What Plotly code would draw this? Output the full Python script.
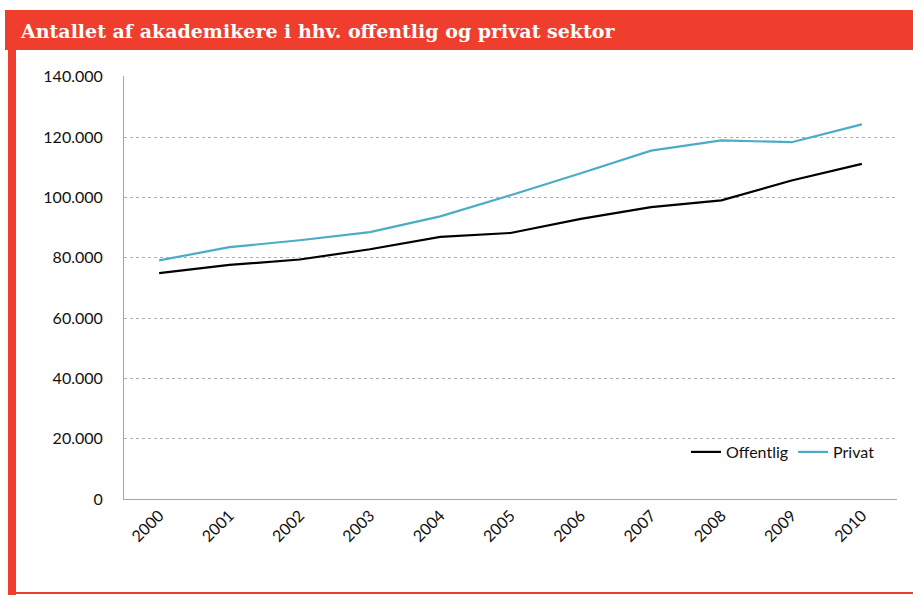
import plotly.graph_objects as go

years = ["2000", "2001", "2002", "2003", "2004", "2005", "2006", "2007", "2008", "2009", "2010"]
offentlig = [74900, 77600, 79400, 82800, 86900, 88200, 92900, 96800, 99000, 105600, 111100]
privat = [79100, 83500, 85800, 88500, 93700, 100700, 108000, 115500, 118900, 118300, 124200]
y_ticks = [0, 20000, 40000, 60000, 80000, 100000, 120000, 140000]
y_labels = ["0", "20.000", "40.000", "60.000", "80.000", "100.000", "120.000", "140.000"]

W, H = 913, 595
L, R, T, B = 124, 16, 76, 96
pw, ph = W - L - R, H - T - B

def px(x):
    return (x - L) / pw

def py(y):
    return (H - B - y) / ph

RED = "#EF3E2E"

fig = go.Figure()
fig.add_trace(go.Scatter(x=years, y=offentlig, mode="lines", name="Offentlig",
                         line=dict(color="#000000", width=2.2)))
fig.add_trace(go.Scatter(x=years, y=privat, mode="lines", name="Privat",
                         line=dict(color="#4BACC6", width=2.2)))

shapes = [
    dict(type="rect", xref="paper", yref="paper", x0=px(5), x1=px(913), y0=py(50), y1=py(10),
         fillcolor=RED, line=dict(width=0), layer="below"),
    dict(type="rect", xref="paper", yref="paper", x0=px(8), x1=px(16), y0=py(595), y1=py(50),
         fillcolor=RED, line=dict(width=0), layer="below"),
    dict(type="rect", xref="paper", yref="paper", x0=px(16), x1=px(913), y0=py(594), y1=py(592),
         fillcolor=RED, line=dict(width=0), layer="below"),
]

fig.update_layout(
    width=W, height=H,
    margin=dict(l=L, r=R, t=T, b=B, pad=0),
    paper_bgcolor="white", plot_bgcolor="white",
    shapes=shapes,
    title=dict(text="<b>Antallet af akademikere i hhv. offentlig og privat sektor</b>",
               xref="container", yref="container", x=21 / W, xanchor="left",
               y=1 - 31 / H, yanchor="middle",
               font=dict(family="DejaVu Serif", size=19, color="white")),
    font=dict(family="Lato", size=16, color="#111111"),
    showlegend=True,
    legend=dict(orientation="h", x=px(880), xanchor="right", y=py(452), yanchor="middle",
                bgcolor="rgba(0,0,0,0)", font=dict(family="Lato", size=16, color="#111111"),
                itemwidth=30, tracegroupgap=0),
    xaxis=dict(type="category", showgrid=False, showline=True, linecolor="#A6A6A6",
               linewidth=1, ticks="", tickangle=-45, range=[-0.5, 10.5],
               tickfont=dict(family="Lato", size=16, color="#111111")),
    yaxis=dict(range=[0, 140250], tickvals=y_ticks, ticktext=y_labels,
               showgrid=True, gridcolor="#B0B0B0", griddash="3px,3px", gridwidth=1,
               showline=True, linecolor="#A6A6A6", linewidth=1, ticks="",
               zeroline=False, ticklabelstandoff=17,
               tickfont=dict(family="Lato", size=16, color="#111111")),
)

fig.write_html("out.html")
